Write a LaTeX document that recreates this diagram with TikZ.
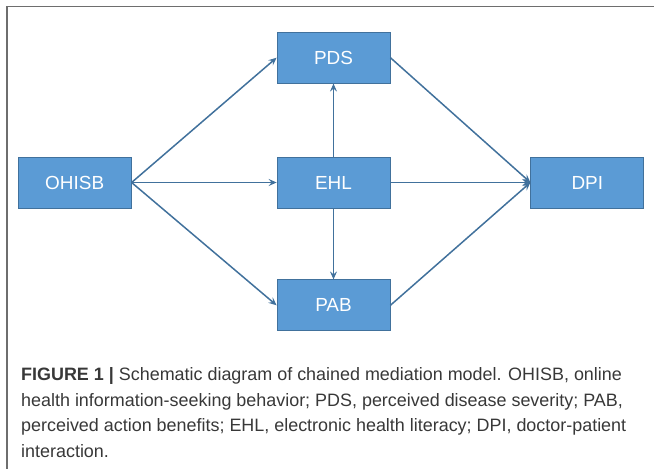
\documentclass[tikz,border=0pt]{standalone}
\usepackage{xcolor}
\usepackage{fontspec}
\setmainfont{Liberation Sans}
\usepackage{tikz}
\usetikzlibrary{arrows.meta, positioning}

\definecolor{boxfill}{HTML}{5B9BD5}
\definecolor{boxline}{HTML}{41719C}
\definecolor{framegray}{HTML}{6E6E6E}
\definecolor{captext}{HTML}{383838}

\begin{document}
\begin{tikzpicture}[
    node distance=73bp and 142bp,
    box/.style={rectangle, draw=boxline, line width=0.8bp, fill=boxfill, text=white, minimum width=113bp, minimum height=51bp, inner sep=0pt, font=\fontsize{19}{19}\selectfont},
    arrow/.style={draw=boxline, line width=1.5bp, -{Stealth[length=8bp, width=7bp, inset=3bp]}}
]
\useasboundingbox (0,0) rectangle (654bp,469bp);

% frame
\draw[framegray, line width=1.2bp] (7bp,0) -- (7bp,462.5bp) -- (654bp,462.5bp);

\node[box] (ehl) at (333.5bp,286.5bp) {EHL};
\node[box, above=of ehl] (pds) {PDS};
\node[box, below=71bp of ehl] (pab) {PAB};
\node[box, left=145bp of ehl] (ohisb) {OHISB};
\node[box, right=140bp of ehl] (dpi) {DPI};

\draw[arrow] (ohisb.east) -- (pds.west);
\draw[arrow] (ohisb.east) -- (ehl.west);
\draw[arrow] (ohisb.east) -- (pab.west);
\draw[arrow] (ehl) -- (pds);
\draw[arrow] (ehl) -- (pab);
\draw[arrow] (pds.east) -- (dpi.west);
\draw[arrow] (ehl.east) -- (dpi.west);
\draw[arrow] (pab.east) -- (dpi.west);

% caption
\node[anchor=north west, align=left, inner sep=0pt, text=captext, font=\fontsize{18}{26}\selectfont] (caption) at (21bp,102bp)
  {\textbf{FIGURE 1 |} Schematic diagram of chained mediation model. OHISB, online\\
   health information-seeking behavior; PDS, perceived disease severity; PAB,\\
   perceived action benefits; EHL, electronic health literacy; DPI, doctor-patient\\
   interaction.};

\end{tikzpicture}
\end{document}
